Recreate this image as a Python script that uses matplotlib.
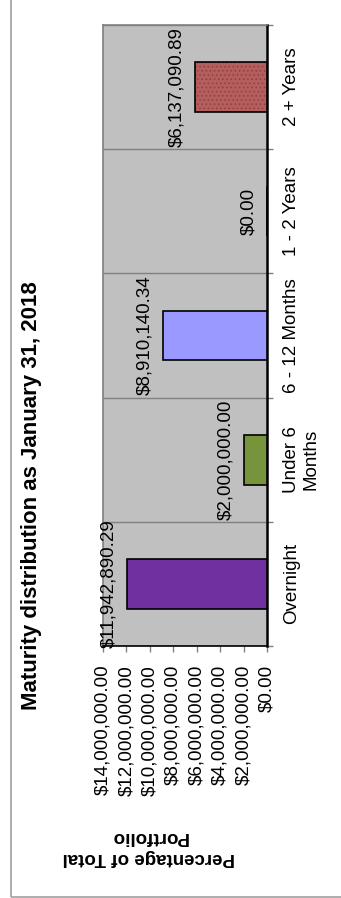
import numpy as np
import matplotlib.pyplot as plt
from matplotlib.patches import Rectangle

categories = ['Overnight', 'Under 6\nMonths', '6 - 12 Months', '1 - 2 Years', '2 + Years']
values = [11942890.29, 2000000.00, 8910140.34, 0.00, 6137090.89]
bar_colors = ['#7030A0', '#77933C', '#9999FF', '#C0C0C0', '#B55E5E']
value_ticks = [0, 2000000, 4000000, 6000000, 8000000, 10000000, 12000000, 14000000]

plt.rcParams['font.family'] = ['Liberation Sans', 'DejaVu Sans']
plt.rcParams['hatch.linewidth'] = 0.6

W, H = 341, 898
fig = plt.figure(figsize=(W / 100, H / 100), dpi=100)

# outer chart frame (only left and bottom edges visible)
fig.patches.append(Rectangle((10.5 / W, 1.5 / H), 1.2, 1.2, transform=fig.transFigure,
                             fill=False, edgecolor='#A0A0A0', linewidth=1.2))

# plot area in pixel coords: x 103..267, y 25..646 (from top)
ax = fig.add_axes([103 / W, 1 - 646 / H, (267 - 103) / W, (646 - 25) / H])
ax.set_facecolor('#C0C0C0')

y = np.arange(len(categories))
ax.barh(y, values, height=0.4, color=bar_colors, linewidth=0, zorder=3)
# fine dotted pattern on the last bar
ax.barh(y[4], values[4], height=0.4, facecolor='none', edgecolor='#8E4040',
        hatch='....', linewidth=0, zorder=4)
ax.barh(y, values, height=0.4, facecolor='none', edgecolor='black', linewidth=1.2, zorder=5)

ax.set_xlim(14000000, 0)
ax.set_ylim(-0.5, len(categories) - 0.5)

# value axis at bottom
ax.set_xticks(value_ticks)
ax.set_xticklabels(['${:,.2f}'.format(v) for v in value_ticks], rotation=90, fontsize=13.5)
ax.tick_params(axis='x', direction='out', length=4.5, width=1, color='#808080', pad=9)

# category axis on the right
ax.yaxis.tick_right()
ax.set_yticks(y)
ax.set_yticklabels(categories, rotation=90, fontsize=13.5, va='center', ha='left',
                   multialignment='center')
ax.tick_params(axis='y', which='major', length=0, pad=11.5)
ax.set_yticks(np.arange(-0.5, len(categories), 1.0), minor=True)
ax.tick_params(axis='y', which='minor', direction='out', length=4.5, width=1, color='#808080')
ax.grid(True, which='minor', axis='y', color='#808080', linewidth=1, zorder=1)
ax.set_axisbelow(True)

for side in ['left', 'top']:
    ax.spines[side].set_color('#808080')
    ax.spines[side].set_linewidth(1.2)
ax.spines['right'].set_color('black')
ax.spines['right'].set_linewidth(1.8)
ax.spines['bottom'].set_color('black')
ax.spines['bottom'].set_linewidth(1.2)

# data labels beyond bar ends
for yi, v in zip(y, values):
    ax.annotate('${:,.2f}'.format(v), xy=(v, yi), xytext=(-7, 0), textcoords='offset points',
                rotation=90, ha='right', va='center', fontsize=13.5, annotation_clip=False)

# chart title and value axis title
fig.text(32 / W, 1 - 496 / H, 'Maturity distribution as January 31, 2018', rotation=90,
         ha='center', va='center', fontsize=16, fontweight='bold')
fig.text(149 / W, 1 - 847 / H, 'Percentage of Total\nPortfolio', rotation=180,
         ha='center', va='center', fontsize=13.5, fontweight='bold', multialignment='center',
         linespacing=1.35)

fig.savefig('out.png', dpi=100)
